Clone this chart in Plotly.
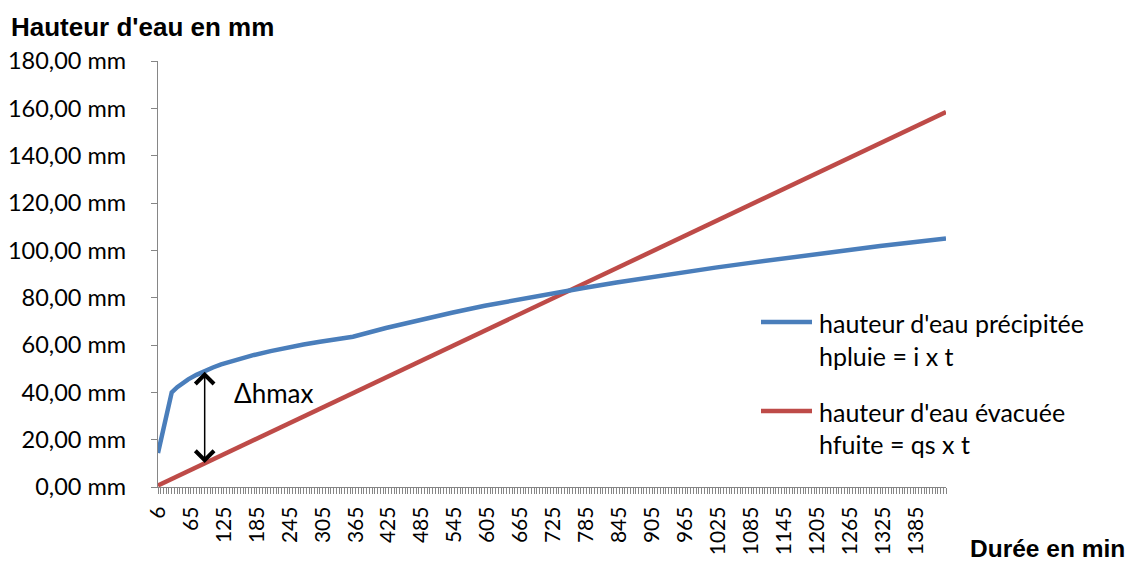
import plotly.graph_objects as go

# Durées (min) de la série : 6 min puis pas de 5 min jusqu'à 24 h
CATEGORIES = [6] + list(range(10, 1441, 5))
# Une étiquette toutes les 12 catégories
TICK_LABELS = ["6", "65", "125", "185", "245", "305", "365", "425", "485", "545",
               "605", "665", "725", "785", "845", "905", "965", "1025", "1085",
               "1145", "1205", "1265", "1325", "1385"]

# Hauteur d'eau précipitée hpluie = i x t (mm)
T_PLUIE = [6, 10, 15, 20, 25, 30, 40, 50, 60, 75, 90, 105, 120, 150, 180, 210, 240,
           270, 300, 330, 360, 420, 480, 540, 600, 660, 720, 780, 840, 900, 960,
           1020, 1080, 1140, 1200, 1260, 1320, 1380, 1440]
H_PLUIE = [14.4, 19.9, 25.8, 30.9, 35.6, 40.0, 42.2, 44.0, 45.5, 47.4, 49.1, 50.5,
           51.8, 54.0, 55.8, 57.4, 58.9, 60.2, 61.4, 62.5, 63.5, 67.2, 70.5, 73.6,
           76.6, 79.2, 81.7, 84.1, 86.4, 88.6, 90.7, 92.7, 94.6, 96.5, 98.3, 100.1,
           101.8, 103.4, 105.0]

# Hauteur d'eau évacuée hfuite = qs x t (mm)
T_FUITE = [6, 360, 720, 1080, 1440]
H_FUITE = [0.66, 39.6, 79.2, 118.8, 158.4]

# Écart maximal repéré sur le graphique
T_DELTA = 90

Y_TICKS = [0, 20, 40, 60, 80, 100, 120, 140, 160, 180]

BLUE = "#4A7EBB"
RED = "#BE4B48"
GREY = "#868686"
TXT = "Lato"
BOLD = "Liberation Sans"

W, H = 1134, 563
L, R, T, B = 158, 188, 61, 76
PW, PH = W - L - R, H - T - B


def pos(t):
    return CATEGORIES.index(t)


def px(x):
    return (x - L) / PW


def py(y):
    return (H - B - y) / PH


fig = go.Figure()
fig.add_trace(go.Scatter(x=[pos(t) for t in T_FUITE], y=H_FUITE, mode="lines",
                         line=dict(color=RED, width=4.5),
                         name="hauteur d'eau évacuée<br>hfuite = qs x t"))
fig.add_trace(go.Scatter(x=[pos(t) for t in T_PLUIE], y=H_PLUIE, mode="lines",
                         line=dict(color=BLUE, width=4.5),
                         name="hauteur d'eau précipitée<br>hpluie = i x t"))

fig.update_xaxes(
    range=[0, len(CATEGORIES) - 1],
    automargin=False,
    tickmode="array",
    tickvals=[i * 12 for i in range(len(TICK_LABELS))],
    ticktext=TICK_LABELS,
    tickangle=-90,
    ticks="outside", ticklen=6, tickcolor=GREY, tickwidth=1,
    minor=dict(tickmode="linear", tick0=0, dtick=1, ticks="outside",
               ticklen=6, tickcolor=GREY, tickwidth=1, showgrid=False),
    showline=True, linecolor=GREY, linewidth=1.3,
    showgrid=False, zeroline=False,
    tickfont=dict(family=TXT, size=21, color="black"),
    ticklabelstandoff=4,
)
fig.update_yaxes(
    range=[0, 180],
    automargin=False,
    tickmode="array",
    tickvals=Y_TICKS,
    ticktext=[f"{v:.2f}".replace(".", ",") + " mm" for v in Y_TICKS],
    ticks="outside", ticklen=6, tickcolor=GREY, tickwidth=1,
    showline=True, linecolor=GREY, linewidth=1.3,
    showgrid=False, zeroline=False,
    tickfont=dict(family=TXT, size=23.5, color="black"),
    ticklabelstandoff=20,
)

annotations = [
    dict(text="<b>Hauteur d'eau en mm</b>", xref="paper", yref="paper",
         x=px(9), y=py(27), xanchor="left", yanchor="middle", showarrow=False,
         font=dict(family=BOLD, size=26, color="black")),
    dict(text="<b>Durée en min</b>", xref="paper", yref="paper",
         x=px(1126), y=py(548), xanchor="right", yanchor="middle", showarrow=False,
         borderpad=0, font=dict(family=BOLD, size=24.5, color="black")),
    dict(text="Δhmax", xref="x", yref="y", x=pos(140), y=39.7,
         xanchor="left", yanchor="middle", showarrow=False,
         font=dict(family=TXT, size=26, color="black")),
    # Flèche double entre les deux courbes
    dict(x=pos(T_DELTA), y=H_PLUIE[T_PLUIE.index(T_DELTA)] - 0.4,
         ax=pos(T_DELTA), ay=H_FUITE[0] + (H_FUITE[-1] - H_FUITE[0]) * (T_DELTA - 6) / (1440 - 6) - 0.4,
         xref="x", yref="y", axref="x", ayref="y", text="", showarrow=True,
         arrowside="end+start", arrowhead=4, startarrowhead=4,
         arrowsize=2.4, startarrowsize=2.4, arrowwidth=1.5, arrowcolor="black"),
]

# Légende
legend_rows = [
    (BLUE, 322, ["hauteur d'eau précipitée", "hpluie = i x t"], [323, 356]),
    (RED, 411, ["hauteur d'eau évacuée", "hfuite = qs x t"], [412, 444]),
]
shapes = []
for color, ly, lines, ys in legend_rows:
    shapes.append(dict(type="line", xref="paper", yref="paper",
                       x0=px(761), x1=px(812), y0=py(ly), y1=py(ly),
                       line=dict(color=color, width=4.5)))
    for txt, yy in zip(lines, ys):
        annotations.append(dict(text=txt, xref="paper", yref="paper",
                                x=px(817), y=py(yy), xanchor="left", yanchor="middle",
                                showarrow=False,
                                font=dict(family=TXT, size=25, color="black")))

fig.update_layout(
    width=W, height=H,
    margin=dict(l=L, r=R, t=T, b=B),
    plot_bgcolor="white", paper_bgcolor="white",
    showlegend=False,
    annotations=annotations,
    shapes=shapes,
)

fig.write_html("out.html")
